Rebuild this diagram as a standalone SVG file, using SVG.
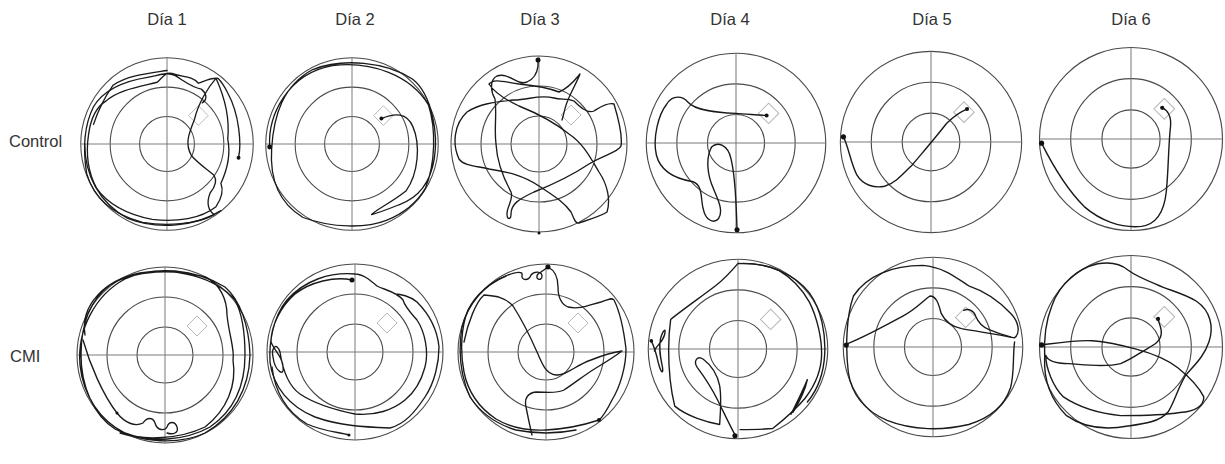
<svg xmlns="http://www.w3.org/2000/svg" width="1225" height="464" viewBox="0 0 1225 464">
<style>
  .lbl { font-family: "Liberation Sans", Arial, sans-serif; font-size: 16.5px; fill: #333; }
  .ring { fill: none; stroke: #4a4a4a; stroke-width: 1.1; }
  .axis { stroke: #7a7a7a; stroke-width: 1; }
  .plat { fill: none; stroke: #b8b8b8; stroke-width: 1; }
  .trk { fill: none; stroke: #1a1a1a; stroke-width: 1.35; stroke-linejoin: round; stroke-linecap: round; }
  .dot { fill: #111; }
</style>
<defs>
  <g id="pool">
    <circle class="ring" cx="0" cy="0" r="88"/>
    <circle class="ring" cx="0" cy="0" r="58"/>
    <circle class="ring" cx="0" cy="0" r="28"/>
    <line class="axis" x1="-88" y1="0" x2="88" y2="0"/>
    <line class="axis" x1="0" y1="-88" x2="0" y2="88"/>
    <polygon class="plat" points="32,-39 42,-29 32,-19 22,-29"/>
  </g>
</defs>
<rect width="1225" height="464" fill="#fff"/>

<g id="headers">
  <text class="lbl" x="167" y="25" text-anchor="middle">Día 1</text>
  <text class="lbl" x="355" y="25" text-anchor="middle">Día 2</text>
  <text class="lbl" x="540" y="25" text-anchor="middle">Día 3</text>
  <text class="lbl" x="730" y="25" text-anchor="middle">Día 4</text>
  <text class="lbl" x="932" y="25" text-anchor="middle">Día 5</text>
  <text class="lbl" x="1131" y="25" text-anchor="middle">Día 6</text>
  <text class="lbl" x="9" y="147">Control</text>
  <text class="lbl" x="10" y="362">CMI</text>
</g>

<g id="control-d1" transform="translate(167,144) scale(0.98)">
  <use href="#pool"/>
  <path class="trk" d="M73,14 C76,0 74,-30 62,-52 C58,-60 55,-64 52,-67 C45,-68 38,-64 32,-62 C25,-70 15,-68 5,-72 C-2,-74 -6,-66 -10,-63 C-30,-58 -50,-55 -62,-44 C-72,-38 -78,-25 -80,-10 C-83,10 -80,30 -72,45 C-60,62 -40,72 -15,77 C10,80 35,76 50,64 C58,52 57,45 55,40 C62,25 65,10 62,-5 C64,-25 60,-45 50,-67 C42,-58 32,-42 28,-25 C22,-10 18,0 25,12 C32,20 40,25 48,32 C52,38 48,45 44,50 C40,60 42,68 48,72 C30,82 0,84 -25,80 C-55,72 -75,55 -82,30 C-86,5 -84,-20 -75,-38 C-65,-55 -45,-64 -20,-68 C-8,-70 0,-74 8,-70 C18,-64 25,-58 35,-56 C40,-52 42,-46 36,-42"/>
  <path class="trk" d="M-75,-20 C-70,-35 -62,-50 -55,-60 C-40,-70 -20,-72 0,-75 M-84,0 C-84,30 -70,60 -40,76 C-10,88 30,84 55,68"/>
  <circle class="dot" cx="73" cy="14" r="2"/>
</g>

<g id="control-d2" transform="translate(352,144) scale(0.98)">
  <use href="#pool"/>
  <path class="trk" d="M-84,3 C-86,-30 -65,-72 -20,-80 C20,-85 60,-70 78,-40 C86,-15 85,20 75,45 C65,62 50,72 35,78 C15,86 -20,86 -50,75 C-75,60 -84,35 -82,5 C-80,-30 -70,-60 -40,-76 C-10,-88 35,-84 62,-66 C82,-50 88,-10 84,15 C80,40 68,55 48,62 C38,66 28,70 20,72 C26,66 40,60 55,48 C68,30 70,0 62,-18 C56,-32 44,-32 30,-26"/>
  <circle class="dot" cx="-84" cy="3" r="2.5"/>
  <circle class="dot" cx="30" cy="-26" r="2"/>
</g>

<g id="control-d3" transform="translate(539,144)">
  <use href="#pool"/>
  <path class="trk" d="M-1,-84 L-1,-78 C-2,-70 -5,-65 -12,-62 C-22,-58 -30,-72 -42,-68 C-50,-64 -48,-52 -44,-45 C-42,-30 -45,-15 -43,0 C-42,20 -35,35 -28,48 C-25,55 -32,62 -32,70 C-32,76 -28,76 -28,70 C-28,60 -20,55 -5,48 C15,40 35,30 50,20 C62,12 80,8 82,2 C84,-10 78,-30 75,-40 C68,-42 60,-36 55,-33 C48,-30 40,-38 35,-43 C28,-46 22,-44 15,-46 C0,-50 -10,-44 -25,-44 C-45,-42 -60,-40 -72,-32 C-85,-20 -87,0 -80,15 C-75,22 -62,22 -50,25 C-30,28 -15,32 0,42 C15,52 25,58 32,68 C35,74 36,80 40,79 C52,75 62,72 68,68 C72,55 68,40 60,28 C52,15 45,0 30,-10 C15,-22 0,-30 -20,-38 C-35,-45 -45,-52 -50,-60 C-45,-66 -35,-62 -20,-60 C0,-58 10,-56 20,-52 C30,-56 36,-64 41,-70 C38,-62 32,-52 29,-44 C26,-38 25,-30 23,-24"/>
  <circle class="dot" cx="-1" cy="-84" r="2.5"/>
  <circle class="dot" cx="0" cy="89" r="1.5"/>
</g>

<g id="control-d4" transform="translate(736,143) scale(1.02)">
  <use href="#pool"/>
  <path class="trk" d="M30,-27 C20,-28 10,-28 0,-29 C-20,-30 -40,-32 -47,-40 C-52,-46 -62,-48 -68,-38 C-76,-28 -82,-5 -78,12 C-74,28 -60,35 -42,38 C-32,42 -35,55 -32,65 C-30,75 -22,80 -17,74 C-12,66 -18,55 -22,45 C-28,32 -30,15 -24,4 C-18,-2 -8,2 -5,15 C0,35 0,60 1,84"/>
  <circle class="dot" cx="30" cy="-27" r="2"/>
  <circle class="dot" cx="1" cy="85" r="2.5"/>
</g>

<g id="control-d5" transform="translate(931,142) scale(1.03)">
  <use href="#pool"/>
  <path class="trk" d="M-85,-5 C-80,5 -78,20 -72,32 C-66,42 -55,45 -45,43 C-35,40 -28,32 -18,22 C-8,10 5,-5 15,-18 C22,-25 30,-30 35,-32"/>
  <circle class="dot" cx="-85" cy="-5" r="2.5"/>
  <circle class="dot" cx="35" cy="-32" r="2"/>
</g>

<g id="control-d6" transform="translate(1131,139) scale(1.04)">
  <use href="#pool"/>
  <path class="trk" d="M-86,4 C-78,20 -65,45 -45,65 C-30,78 -10,86 10,84 C25,82 32,70 34,50 C36,30 36,5 38,-12 C39,-22 35,-28 30,-30"/>
  <circle class="dot" cx="-86" cy="4" r="2.5"/>
  <circle class="dot" cx="30" cy="-30" r="2"/>
</g>

<g id="cmi-d1" transform="translate(165,355)">
  <use href="#pool"/>
  <path class="trk" d="M-80,-20 C-85,-50 -60,-75 -25,-82 C10,-88 50,-78 70,-55 C78,-40 80,-20 80,0 C80,30 70,55 45,72 C20,86 -15,88 -40,78 C-65,66 -82,40 -85,10 C-88,-25 -70,-60 -40,-76 C-10,-90 30,-86 60,-68 C75,-55 84,-30 85,0 C84,35 68,62 40,78 C15,90 -25,88 -50,74 C-72,60 -84,30 -84,0 C-84,-30 -75,-55 -55,-70 C-30,-86 10,-86 40,-78 C55,-72 62,-55 62,-40 C64,-20 70,-5 68,5 C72,30 62,55 40,72 C15,84 -20,86 -45,78"/>
  <path class="trk" d="M-82,-15 C-75,10 -62,40 -48,58 C-40,68 -30,72 -22,68 C-18,62 -12,62 -10,68 C-8,76 0,76 2,72 C4,66 10,66 12,72 C14,78 8,80 2,78"/>
  <circle class="dot" cx="-48" cy="58" r="1.5"/>
</g>

<g id="cmi-d2" transform="translate(355,352)">
  <use href="#pool"/>
  <path class="trk" d="M-3,-72 C-20,-76 -45,-70 -60,-58 C-75,-45 -84,-25 -84,-10 C-80,0 -72,5 -72,15 C-70,25 -80,20 -82,5 C-84,-5 -78,-10 -75,0 C-72,20 -65,35 -55,42 C-40,52 -20,58 0,62 C20,64 38,58 50,48 C60,40 66,30 70,15 C74,0 70,-20 62,-32 C55,-40 50,-45 48,-52 C42,-60 30,-62 22,-66 C15,-72 8,-78 0,-78 C-25,-80 -50,-72 -68,-52 C-82,-35 -86,-10 -85,10 C-82,35 -65,55 -40,65 C-15,74 10,75 35,76 C50,72 60,60 70,45 C80,30 84,10 84,-5 C82,-25 72,-40 62,-50 C55,-56 45,-58 40,-58"/>
  <path class="trk" d="M-6,83 C-15,80 -30,80 -48,72 C-68,60 -80,40 -83,15"/>
  <circle class="dot" cx="-3" cy="-72" r="2.5"/>
  <circle class="dot" cx="-6" cy="83" r="1.5"/>
</g>

<g id="cmi-d3" transform="translate(546,352)">
  <use href="#pool"/>
  <path class="trk" d="M2,-85 C-2,-82 -5,-80 -8,-78 C-12,-73 -4,-70 -4,-76 C-4,-81 -12,-81 -15,-77 C-17,-71 -25,-71 -24,-77 C-23,-81 -30,-80 -38,-77 C-55,-70 -70,-58 -78,-42 C-85,-25 -86,0 -82,20 C-78,40 -68,55 -50,67 C-35,76 -18,79 0,78 C18,77 35,74 53,68"/>
  <path class="trk" d="M2,-85 C8,-82 12,-76 12,-65 C12,-55 15,-48 22,-45 C35,-42 45,-48 55,-50 C62,-52 66,-55 68,-52 C74,-40 78,-20 80,-3 C80,15 74,35 66,48 C62,56 58,64 53,68"/>
  <path class="trk" d="M-82,-10 C-78,-30 -70,-50 -62,-57 C-52,-56 -42,-56 -33,-46 C-24,-32 -16,-16 -9,0 C-4,12 0,22 10,23 C20,24 30,13 45,8 C55,4 68,0 76,-1 C68,5 60,10 50,16 C40,22 30,30 18,38 C10,42 0,40 -10,40 C-18,41 -22,46 -20,55 C-18,65 -16,75 -14,83"/>
  <path class="trk" d="M-40,-76 C-60,-68 -78,-50 -84,-25 C-88,0 -85,25 -76,45 C-66,60 -50,72 -30,78 C-10,82 10,82 30,78"/>
  <circle class="dot" cx="2" cy="-85" r="2.5"/>
  <circle class="dot" cx="53" cy="68" r="2"/>
</g>

<g id="cmi-d4" transform="translate(738,349) scale(1.02)">
  <use href="#pool"/>
  <path class="trk" d="M-3,84 C-8,75 -14,62 -20,50 C-26,38 -34,26 -40,18 C-44,12 -40,6 -34,10 C-26,16 -20,26 -18,36 C-16,48 -17,60 -18,74 C-30,72 -50,66 -62,56 C-66,40 -68,20 -68,1 C-68,-12 -67,-22 -66,-29 C-55,-38 -35,-52 -22,-62 C-12,-70 -5,-78 0,-84 C15,-84 30,-82 40,-77 C52,-70 62,-60 70,-46 C78,-30 82,-10 82,4 C82,20 76,35 66,48 C56,60 44,70 34,78 C22,79 10,79 2,79"/>
  <path class="trk" d="M5,-84 C30,-84 55,-74 70,-55 C82,-38 86,-15 85,5 C84,25 78,40 68,52"/>
  <path class="trk" d="M-85,-8 C-82,-2 -80,5 -78,14 C-76,22 -73,26 -74,18 C-76,8 -78,0 -76,-10 C-74,-18 -70,-22 -72,-14 C-74,-6 -80,-4 -82,2"/>
  <path class="trk" d="M52,64 C58,52 64,40 68,30 C66,40 60,52 54,62 C58,55 64,44 66,36"/>
  <circle class="dot" cx="-3" cy="85" r="2.5"/>
  <circle class="dot" cx="-85" cy="-8" r="1.8"/>
</g>

<g id="cmi-d5" transform="translate(933,347) scale(1.02)">
  <use href="#pool"/>
  <path class="trk" d="M-87,-2 C-70,-8 -45,-22 -30,-30 C-18,-36 -10,-45 -3,-50 C4,-50 6,-40 8,-33 C12,-25 18,-20 28,-18 C45,-15 65,-12 80,-9 C86,-14 84,-25 76,-33 C65,-45 50,-55 35,-60 C20,-70 10,-78 -10,-80 C-40,-80 -65,-70 -78,-50 C-85,-30 -86,0 -83,25 C-80,45 -68,62 -45,72 C-20,82 10,82 35,76 C55,70 70,58 76,40 C80,25 78,10 80,-5"/>
  <path class="trk" d="M30,-36 C35,-38 40,-36 42,-30 C44,-25 48,-20 55,-17 C62,-14 68,-12 76,-10"/>
  <circle class="dot" cx="-85" cy="-2" r="2.5"/>
</g>

<g id="cmi-d6" transform="translate(1131,347) scale(1.04)">
  <use href="#pool"/>
  <path class="trk" d="M-86,-2 C-70,-4 -50,-7 -37,-6 C-25,-5 -10,-2 5,2 C20,6 35,12 45,20 C55,28 65,38 70,48 C70,58 60,62 47,63 C30,66 10,66 -10,66 C-30,64 -50,58 -65,48 C-75,38 -82,20 -82,8 C-80,14 -70,16 -60,16 C-45,17 -25,20 -10,16 C0,12 8,6 15,2 C22,-2 28,-5 29,-12 C30,-18 27,-22 26,-27"/>
  <path class="trk" d="M-83,10 C-84,30 -78,50 -62,66 C-45,78 -25,80 -3,76 C12,74 28,72 36,62 C42,52 45,40 52,28 C60,18 70,10 75,-5 C80,-20 76,-35 63,-44 C50,-52 35,-55 25,-60 C15,-64 5,-68 -3,-74 C-10,-80 -20,-82 -32,-80 C-50,-76 -68,-62 -76,-40 C-82,-25 -84,-10 -83,10"/>
  <circle class="dot" cx="-86" cy="-2" r="2.5"/>
  <circle class="dot" cx="26" cy="-27" r="2"/>
</g>
</svg>
